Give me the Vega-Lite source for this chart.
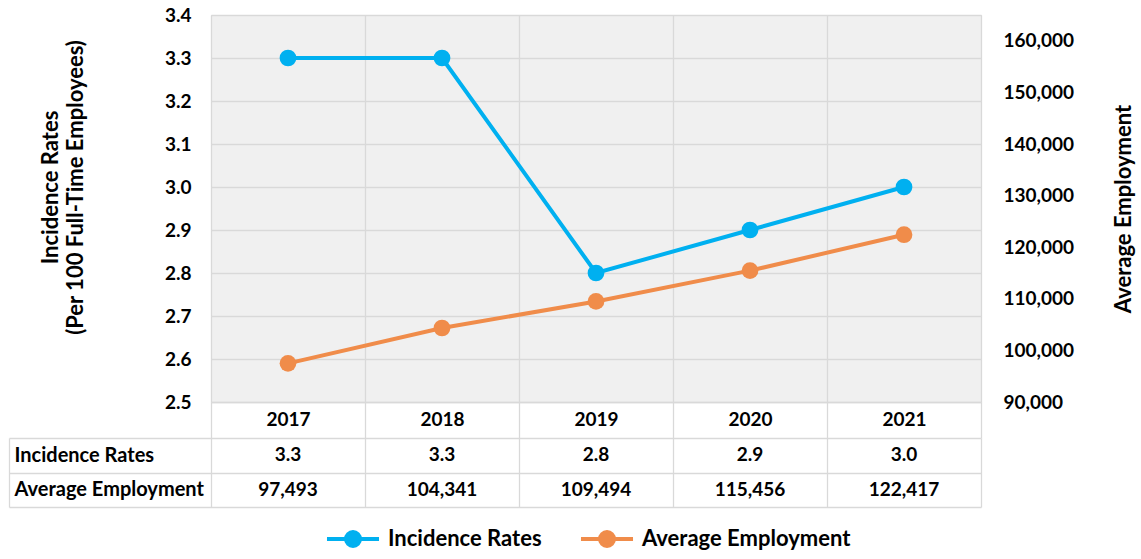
{
  "$schema": "https://vega.github.io/schema/vega-lite/v6.json",
  "padding": {"left": 8, "top": 5, "right": 5, "bottom": 5},
  "data": {"values": [
    {"year": "2017", "inc": 3.3, "emp": 97493},
    {"year": "2018", "inc": 3.3, "emp": 104341},
    {"year": "2019", "inc": 2.8, "emp": 109494},
    {"year": "2020", "inc": 2.9, "emp": 115456},
    {"year": "2021", "inc": 3.0, "emp": 122417}
  ]},
  "config": {
    "font": "Lato",
    "view": {"stroke": "#D9D9D9"},
    "axis": {
      "labelFont": "Lato", "labelFontWeight": "bold", "labelColor": "#000000",
      "titleFont": "Lato", "titleFontWeight": "bold", "titleColor": "#000000",
      "gridColor": "#D9D9D9", "domainColor": "#D9D9D9", "tickColor": "#D9D9D9",
      "gridWidth": 1.3, "domainWidth": 1.3, "tickWidth": 1.3
    },
    "legend": {"labelFont": "Lato", "labelFontWeight": "bold", "labelFontSize": 22, "labelColor": "#000000", "labelLimit": 400, "layout": {"bottom": {"anchor": "middle"}}}
  },
  "spacing": 36,
  "bounds": "flush",
  "vconcat": [
    {
      "width": 770,
      "height": 387,
      "view": {"fill": "#F0F0F0", "stroke": "#D9D9D9"},
      "encoding": {
        "x": {
          "field": "year", "type": "ordinal",
          "scale": {"type": "band", "paddingInner": 0, "paddingOuter": 0},
          "axis": {"title": null, "labelAngle": 0, "labelFontSize": 19, "labelPadding": -28, "tickSize": 36, "tickBand": "extent", "grid": true, "domain": true}
        }
      },
      "layer": [
        {
          "mark": {"type": "line", "strokeWidth": 4, "color": "#00B0F0", "point": {"filled": true, "size": 280, "color": "#00B0F0"}},
          "encoding": {
            "y": {
              "field": "inc", "type": "quantitative",
              "scale": {"domain": [2.5, 3.4], "nice": false, "zero": false},
              "axis": {
                "values": [2.5, 2.6, 2.7, 2.8, 2.9, 3.0, 3.1, 3.2, 3.3, 3.4],
                "format": ".1f", "labelFontSize": 19, "ticks": false, "domain": false, "labelPadding": 20,
                "title": ["Incidence Rates", "(Per 100 Full-Time Employees)"],
                "titleFontSize": 22, "titlePadding": 77, "titleY": 172, "titleLineHeight": 25
              }
            },
            "color": {
              "datum": "Incidence Rates", "type": "nominal",
              "scale": {"domain": ["Incidence Rates", "Average Employment"], "range": ["#00B0F0", "#F08C4A"]},
              "legend": {
                "title": null, "orient": "bottom", "direction": "horizontal", "offset": 20,
                "symbolType": "M-3.5,0H3.5M0.94,0A0.94,0.94,0,1,1,-0.94,0A0.94,0.94,0,1,1,0.94,0Z",
                "symbolSize": 221, "symbolStrokeWidth": 4, "labelOffset": 24, "columnPadding": 30,
                "encode": {"symbols": {"update": {"fill": {"scale": "color", "field": "value"}, "stroke": {"scale": "color", "field": "value"}, "opacity": {"value": 1}}}}
              }
            }
          }
        },
        {
          "mark": {"type": "line", "strokeWidth": 4, "color": "#F08C4A", "point": {"filled": true, "size": 280, "color": "#F08C4A"}},
          "encoding": {
            "y": {
              "field": "emp", "type": "quantitative",
              "scale": {"domain": [90000, 165000], "nice": false, "zero": false},
              "axis": {
                "orient": "right",
                "values": [90000, 100000, 110000, 120000, 130000, 140000, 150000, 160000],
                "format": ",d", "labelFontSize": 19, "ticks": false, "domain": false, "grid": false, "labelPadding": 22,
                "title": "Average Employment", "titleFontSize": 22, "titleAngle": 270, "titlePadding": 62
              }
            },
            "color": {"datum": "Average Employment", "type": "nominal"}
          }
        }
      ],
      "resolve": {"scale": {"y": "independent"}}
    },
    {
      "width": 770,
      "height": 69,
      "view": {"stroke": null},
      "encoding": {
        "x": {
          "field": "year", "type": "ordinal",
          "scale": {"type": "band", "paddingInner": 0, "paddingOuter": 0},
          "axis": {"title": null, "labels": false, "ticks": false, "domain": false, "grid": true, "tickBand": "extent"}
        }
      },
      "layer": [
        {
          "mark": {"type": "text", "fontSize": 19, "fontWeight": "bold", "font": "Lato", "color": "#000000"},
          "encoding": {
            "y": {
              "datum": "Incidence Rates", "type": "nominal",
              "scale": {"type": "band", "domain": ["Incidence Rates", "Average Employment"], "paddingInner": 0, "paddingOuter": 0},
              "axis": {
                "title": null, "orient": "left", "offset": 202, "domain": true, "ticks": true,
                "tickSize": -972, "tickBand": "extent", "labelAlign": "left", "labelPadding": 967,
                "labelFontSize": 20, "grid": false, "labelLimit": 300
              }
            },
            "text": {"field": "inc", "type": "quantitative", "format": ".1f"}
          }
        },
        {
          "mark": {"type": "text", "fontSize": 19, "fontWeight": "bold", "font": "Lato", "color": "#000000"},
          "encoding": {
            "y": {"datum": "Average Employment", "type": "nominal"},
            "text": {"field": "emp", "type": "quantitative", "format": ","}
          }
        }
      ]
    }
  ]
}
